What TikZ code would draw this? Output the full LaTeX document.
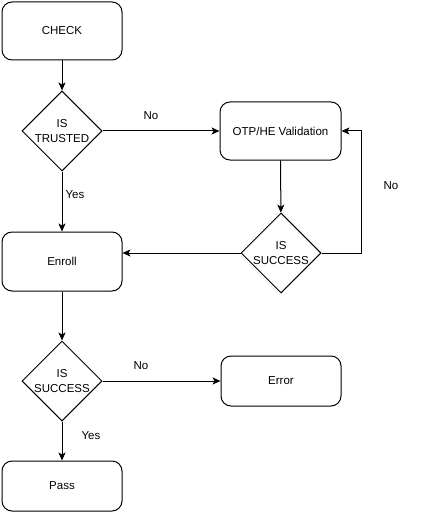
\documentclass[tikz,border=0pt]{standalone}
\usepackage{fontspec}
\setmainfont{Liberation Sans}
\usetikzlibrary{shapes.geometric,arrows.meta}

\begin{document}
\begin{tikzpicture}[x=1pt,y=-1pt,
    font=\fontsize{11.5}{14.5}\selectfont,
    box/.style={draw,rounded corners=10pt,line width=1pt,minimum width=120pt,minimum height=58pt,inner sep=0pt},
    decision/.style={draw,diamond,line width=1pt,minimum width=80pt,minimum height=80pt,inner sep=0pt,align=center},
    flow/.style={line width=1pt,-{Stealth[length=8pt,width=7pt,inset=2pt]}}]
          \useasboundingbox (0,0) rectangle (423,513);
          % boxes
          \node[box] (check) at (62,31) {CHECK};
          \node[decision] (trusted) at (62,131) {IS\\TRUSTED};
          \node[box,minimum width=121pt] (otp) at (280.5,131) {OTP/HE Validation};
          \node[decision] (success) at (281,253) {IS\\SUCCESS};
          \node[box,minimum height=59pt] (enroll) at (62,261.5) {Enroll};
          \node[decision] (result) at (62,381) {IS\\SUCCESS};
          \node[box,minimum height=50pt] (error) at (281,381) {Error};
          \node[box,minimum height=50pt] (pass) at (62,486) {Pass};
          \coordinate (loop) at (361,253);
          % connectors
          \draw[flow] (check) -- (trusted);
          \draw[flow] (trusted) -- (otp);
          \draw[flow] (trusted) -- (enroll);
          \draw[flow] (otp) -- (success);
          \draw[flow] (success.east) -- (loop) |- (otp.east);
          \draw[flow] (success.west) -- (success.west -| enroll.east);
          \draw[flow] (enroll) -- (result);
          \draw[flow] (result) -- (error);
          \draw[flow] (result) -- (pass);
          % labels
          \node (no1) at (151,116) {No};
          \node (no2) at (391,186) {No};
          \node (yes1) at (75,195) {Yes};
          \node (no3) at (141,366) {No};
          \node (yes2) at (91,436) {Yes};
        \end{tikzpicture}
\end{document}
